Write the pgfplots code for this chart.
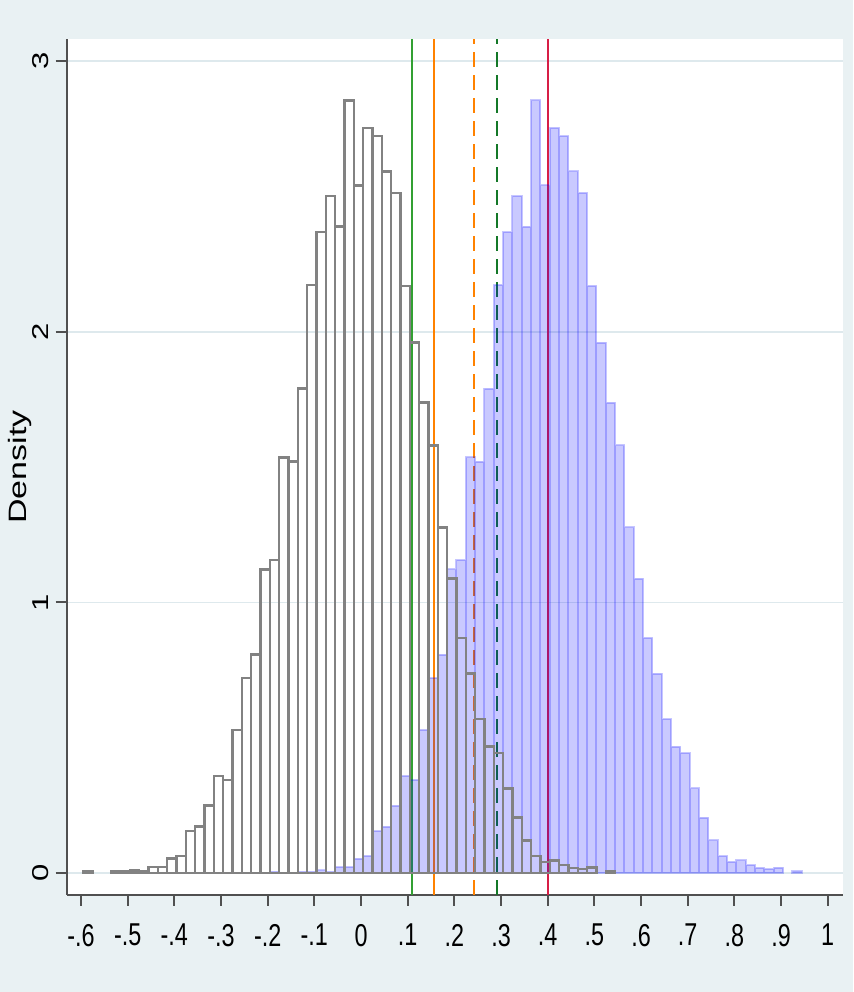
\documentclass[border=0pt]{standalone}
\usepackage{pgfplots}
\pgfplotsset{compat=1.18}
\usepackage{pgfplotstable}
\usepackage{graphicx}
\usepackage{fontspec}
\setmainfont{Liberation Sans}
\newfontfamily\narrowfont[FakeStretch=0.74]{Liberation Sans}

\definecolor{bgcol}{RGB}{233,241,243}
\definecolor{gridcol}{RGB}{222,233,237}
\definecolor{axisgray}{RGB}{80,80,80}
\definecolor{histgray}{RGB}{130,130,130}
\definecolor{lgreen}{RGB}{50,160,50}
\definecolor{dgreen}{RGB}{20,120,40}
\definecolor{lorange}{RGB}{255,130,0}
\definecolor{lred}{RGB}{215,30,70}

\pgfplotstableread{
x y
-0.5855 0.005
-0.5255 0.005
-0.5055 0.005
-0.4855 0.010
-0.4655 0.005
-0.4455 0.022
-0.4255 0.022
-0.4055 0.053
-0.3855 0.063
-0.3655 0.155
-0.3455 0.171
-0.3255 0.249
-0.3055 0.359
-0.2855 0.344
-0.2655 0.529
-0.2455 0.720
-0.2255 0.807
-0.2055 1.122
-0.1855 1.156
-0.1655 1.536
-0.1455 1.520
-0.1255 1.790
-0.1055 2.173
-0.0855 2.368
-0.0655 2.501
-0.0455 2.389
-0.0255 2.855
-0.0055 2.541
0.0145 2.754
0.0345 2.723
0.0545 2.593
0.0745 2.513
0.0945 2.170
0.1145 1.960
0.1345 1.738
0.1545 1.580
0.1745 1.277
0.1945 1.088
0.2145 0.869
0.2345 0.737
0.2545 0.569
0.2745 0.467
0.2945 0.443
0.3145 0.313
0.3345 0.205
0.3545 0.121
0.3745 0.062
0.3945 0.041
0.4145 0.047
0.4345 0.029
0.4545 0.019
0.4745 0.014
0.4945 0.020
0.5345 0.006
}\grayhist

\pgfplotstableread{
x y
-0.1855 0.005
-0.1255 0.005
-0.1055 0.005
-0.0855 0.010
-0.0655 0.005
-0.0455 0.022
-0.0255 0.022
-0.0055 0.053
0.0145 0.063
0.0345 0.155
0.0545 0.171
0.0745 0.249
0.0945 0.359
0.1145 0.344
0.1345 0.529
0.1545 0.720
0.1745 0.807
0.1945 1.122
0.2145 1.156
0.2345 1.536
0.2545 1.520
0.2745 1.790
0.2945 2.173
0.3145 2.368
0.3345 2.501
0.3545 2.389
0.3745 2.855
0.3945 2.541
0.4145 2.754
0.4345 2.723
0.4545 2.593
0.4745 2.513
0.4945 2.170
0.5145 1.960
0.5345 1.738
0.5545 1.580
0.5745 1.277
0.5945 1.088
0.6145 0.869
0.6345 0.737
0.6545 0.569
0.6745 0.467
0.6945 0.443
0.7145 0.313
0.7345 0.205
0.7545 0.121
0.7745 0.062
0.7945 0.041
0.8145 0.047
0.8345 0.029
0.8545 0.019
0.8745 0.014
0.8945 0.020
0.9345 0.006
}\bluehist

\begin{document}
\begin{tikzpicture}
\fill[bgcol] (0,0) rectangle (426.5pt,496pt);
\path[use as bounding box] (0,0) rectangle (426.5pt,496pt);
\begin{axis}[
  at={(33.35pt,48.5pt)}, anchor=south west,
  scale only axis, width=388pt, height=428pt,
  xmin=-0.6306, xmax=1.0321, ymin=-0.0813, ymax=3.082,
  axis lines*=left,
  axis line style={draw=axisgray, line width=1pt},
  axis background/.style={fill=white},
  tick align=outside,
  major tick length=5.5pt,
  tick style={draw=axisgray, line width=1pt},
  xtick={-0.6,-0.5,-0.4,-0.3,-0.2,-0.1,0,0.1,0.2,0.3,0.4,0.5,0.6,0.7,0.8,0.9,1},
  xticklabels={-.6,-.5,-.4,-.3,-.2,-.1,0,.1,.2,.3,.4,.5,.6,.7,.8,.9,1},
  xticklabel style={font=\narrowfont\fontsize{15.8}{17}\selectfont, text=black, yshift=-5.5pt},
  ytick={0,1,2,3},
  yticklabels={\scalebox{1}[0.74]{0},\scalebox{1}[0.74]{1},\scalebox{1}[0.74]{2},\scalebox{1}[0.74]{3}},
  yticklabel style={rotate=90, anchor=south, font=\fontsize{15.5}{17}\selectfont, text=black},
  ymajorgrids,
  grid style={draw=gridcol, line width=0.8pt},
  ylabel={\scalebox{1}[0.74]{Density}},
  ylabel style={at={(axis description cs:-0.0602,0.5)}, anchor=center, font=\fontsize{17}{19}\selectfont},
  clip=true,
]
\addplot[lgreen, line width=1pt] coordinates {(0.1103,-0.0813) (0.1103,3.082)};
\addplot[lorange, line width=1pt] coordinates {(0.1564,-0.0813) (0.1564,3.082)};
\addplot[lorange, line width=1pt, dash pattern=on 7.5pt off 4pt] coordinates {(0.2428,-0.0813) (0.2428,3.082)};
\addplot[dgreen, line width=1pt, dash pattern=on 7.5pt off 4pt] coordinates {(0.2907,-0.0813) (0.2907,3.082)};
\addplot[lred, line width=1pt] coordinates {(0.4013,-0.0813) (0.4013,3.082)};
\addplot[ybar, bar width=0.02, bar shift=0pt, fill=blue, draw=blue, fill opacity=0.21, draw opacity=0.22, line width=1pt] table {\bluehist};
\addplot[ybar, bar width=0.02, bar shift=0pt, fill=none, draw=histgray, line width=1.25pt] table {\grayhist};
\end{axis}
\end{tikzpicture}
\end{document}
